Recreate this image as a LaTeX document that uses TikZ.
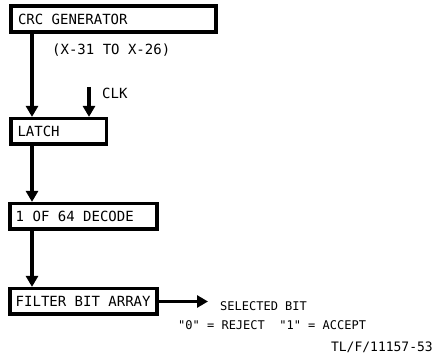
\documentclass[tikz,border=0pt]{standalone}
\usepackage{fontspec}
\setmonofont{DejaVu Sans Mono}
\usetikzlibrary{positioning,arrows.meta}
\tikzset{
	blk/.style={draw,line width=3.6pt,inner xsep=6.8pt,inner ysep=0pt,minimum height=25.6pt,align=flush left,text width=#1},
	arr/.style={line width=3.2pt,-{Triangle[length=11pt,width=12pt]}},
	lbl/.style={inner sep=0pt}
}

\begin{document}
\begin{tikzpicture}[x=1pt,y=-1pt,font=\ttfamily\fontsize{14}{16}\selectfont]
		\useasboundingbox (0,0) rectangle (437,358);
		\node (crc) [blk=191pt] at (113.5,19) {CRC GENERATOR};
		\node (poly) [lbl,anchor=west] at (52,50) {(X-31 TO X-26)};
		\node (latch) [blk=82pt] at (58.5,131.5) {LATCH};
		\node (decode) [blk=135.5pt,inner xsep=5.95pt] at (83.5,216.5) {1 OF 64 DECODE};
		\node (filter) [blk=135.5pt,inner xsep=5.95pt] at (83.5,301.5) {FILTER BIT ARRAY};
		\coordinate (tap) at (32,33);
		\coordinate (clk) at (89,87);
		\coordinate (out) at (208,301.5);
		\node (clklbl) [lbl,anchor=west] at (102,93) {CLK};
		\node (sel) [lbl,anchor=west,font=\ttfamily\fontsize{12}{14}\selectfont] at (220,306) {SELECTED BIT};
		\node (rule) [lbl,anchor=west,font=\ttfamily\fontsize{12}{14}\selectfont] at (178,325) {"0" = REJECT \ "1" = ACCEPT};
		\node (fig) [lbl,anchor=east,font=\ttfamily\fontsize{13}{15}\selectfont] at (433,347) {TL/F/11157-53};
		\draw[arr] (crc.south -| tap) -- (latch.north -| tap);
		\draw[arr] (clk) -- (clk |- latch.north);
		\draw[arr] (latch.south -| tap) -- (decode.north -| tap);
		\draw[arr] (decode.south -| tap) -- (filter.north -| tap);
		\draw[arr] (filter.east) -- (out);
\end{tikzpicture}
\end{document}
